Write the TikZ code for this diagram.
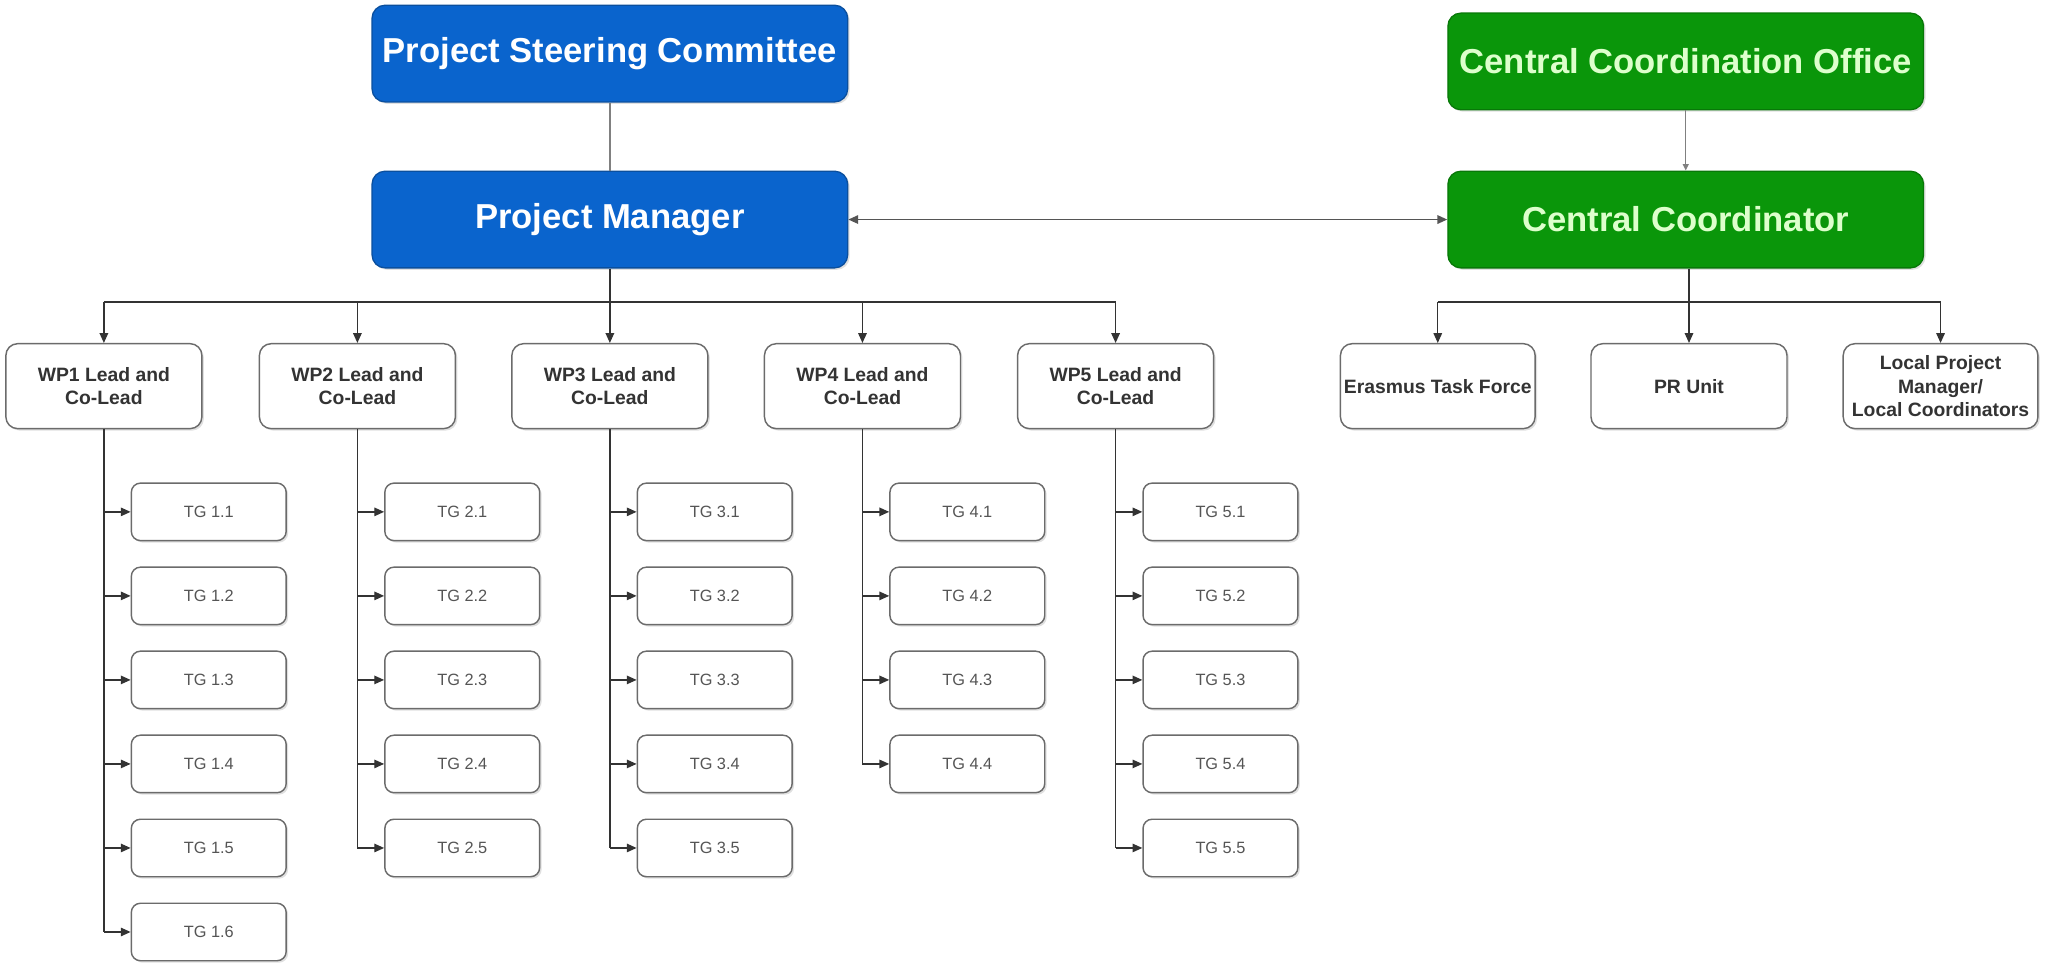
\documentclass[tikz,border=0pt]{standalone}
\usepackage{fontspec}
\setmainfont{Liberation Sans}
\usetikzlibrary{arrows.meta,shadows}
\definecolor{pblue}{HTML}{0A64CD}
\definecolor{pblueb}{HTML}{0A4F9E}
\definecolor{pgreen}{HTML}{0A960A}
\definecolor{pgreenb}{HTML}{087808}
\definecolor{greentext}{HTML}{DDFFCC}
\definecolor{boxgray}{HTML}{6B6B6B}
\definecolor{textdark}{HTML}{333333}
\definecolor{textgray}{HTML}{555555}
\definecolor{linec}{HTML}{333333}
\definecolor{lightline}{HTML}{808080}
\begin{document}
\begin{tikzpicture}[x=1pt,y=-1pt,
  softshadow/.style={drop shadow={shadow xshift=1.5pt,shadow yshift=-1.5pt,opacity=0.12,fill=black}},
  bigbox/.style={rounded corners=10pt, line width=1pt, minimum width=364pt, minimum height=74pt,
    inner sep=0pt, font=\fontsize{26.5}{30}\selectfont\bfseries, softshadow},
  bluebox/.style={bigbox, fill=pblue, draw=pblueb, text=white},
  greenbox/.style={bigbox, fill=pgreen, draw=pgreenb, text=greentext},
  wpbox/.style={rounded corners=9pt, fill=white, draw=boxgray, line width=1.1pt,
    minimum width=150pt, minimum height=65pt, inner sep=0pt, align=center,
    text=textdark, font=\fontsize{14.8}{17}\selectfont\bfseries, softshadow},
  tgbox/.style={rounded corners=7pt, fill=white, draw=boxgray, line width=1.1pt,
    minimum width=118.5pt, minimum height=44pt, inner sep=0pt,
    text=textgray, font=\fontsize{12.5}{14}\selectfont, softshadow},
  conn/.style={draw=linec, line width=1pt},
  arr/.style={conn, -{Triangle[length=7.5pt,width=6.5pt]}},
  thinline/.style={draw=lightline, line width=1pt},
  thinarr/.style={draw=lightline, line width=1pt, -{Triangle[length=5pt,width=4.5pt]}},
  biarr/.style={draw=textgray, line width=1.2pt, {Triangle[length=7.5pt,width=6.5pt]}-{Triangle[length=7.5pt,width=6.5pt]}}
]
\useasboundingbox[fill=white] (0,0) rectangle (1568,739.2);

% top level
\node[bluebox] (PSC) at (466.7,41) {Project Steering Committee};
\node[bluebox] (PM) at (466.7,168) {Project Manager};
\node[greenbox] (CCO) at (1290,47) {Central Coordination Office};
\node[greenbox] (CC) at (1290,168) {Central Coordinator};

\draw[thinline] (PSC) -- (PM);
\draw[thinarr] (CCO) -- (CC);
\draw[biarr] (PM) -- (CC);

% work package boxes
\node[wpbox] (WP1) at (79.5,295.5) {WP1 Lead and\\Co-Lead};
\node[wpbox] (WP2) at (273.5,295.5) {WP2 Lead and\\Co-Lead};
\node[wpbox] (WP3) at (466.7,295.5) {WP3 Lead and\\Co-Lead};
\node[wpbox] (WP4) at (660,295.5) {WP4 Lead and\\Co-Lead};
\node[wpbox] (WP5) at (853.7,295.5) {WP5 Lead and\\Co-Lead};

\coordinate (pmbus) at (466.7,231);
\draw[conn] (WP1.north |- pmbus) -- (WP5.north |- pmbus);
\draw[arr] (PM.south) -- (WP3.north);
\foreach \c in {1,2,4,5} {
  \draw[arr] (WP\c.north |- pmbus) -- (WP\c.north);
}

% right side boxes
\node[wpbox, minimum width=149pt] (ETF) at (1100.25,295.5) {Erasmus Task Force};
\node[wpbox] (PR) at (1292.5,295.5) {PR Unit};
\node[wpbox, minimum width=149pt, font=\fontsize{14.8}{18}\selectfont\bfseries] (LPM) at (1485,295.5) {Local Project\\Manager/\\Local Coordinators};

\coordinate (ccbus) at (1292.5,231);
\draw[conn] (ETF.north |- ccbus) -- (LPM.north |- ccbus);
\draw[arr] (PR.north |- CC.south) -- (PR.north);
\draw[arr] (ETF.north |- ccbus) -- (ETF.north);
\draw[arr] (LPM.north |- ccbus) -- (LPM.north);

% task groups
\foreach \c/\n/\x in {1/6/79.5, 2/5/273.5, 3/5/466.7, 4/4/660, 5/5/853.7} {
  \foreach \r in {1,...,\n} {
    \node[tgbox] (TG\c\r) at (\x+80.25, {391.7+64.3*(\r-1)}) {TG \c.\r};
    \draw[arr] (WP\c.south |- TG\c\r.west) -- (TG\c\r.west);
  }
  \draw[conn] (WP\c.south) -- (WP\c.south |- TG\c\n.west);
}
\end{tikzpicture}
\end{document}
